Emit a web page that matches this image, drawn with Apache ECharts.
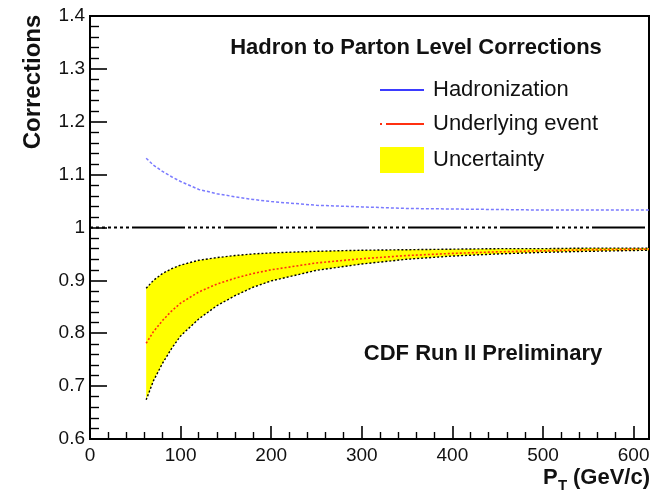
<!DOCTYPE html>
<html>
<head>
<meta charset="utf-8">
<script src="https://cdn.jsdelivr.net/npm/echarts@6/dist/echarts.min.js"></script>
<style>
html,body{margin:0;padding:0;background:#fff;}
#chart{width:656px;height:492px;}
</style>
</head>
<body>
<div id="chart"></div>
<script>
// ---- data ----
const ptValues = [62, 70, 80, 90, 100, 120, 140, 160, 180, 200, 250, 300, 350, 400, 450, 500, 550, 617];
const hadronization = [1.131, 1.118, 1.106, 1.096, 1.087, 1.072, 1.064, 1.058, 1.053, 1.049, 1.042, 1.039, 1.036, 1.035, 1.034, 1.033, 1.033, 1.033];
const underlyingEvent = [0.781, 0.803, 0.824, 0.842, 0.857, 0.878, 0.893, 0.904, 0.913, 0.920, 0.933, 0.941, 0.947, 0.951, 0.954, 0.956, 0.958, 0.959];
const uncertaintyLow = [0.674, 0.710, 0.743, 0.771, 0.795, 0.827, 0.852, 0.871, 0.887, 0.899, 0.919, 0.931, 0.940, 0.946, 0.950, 0.953, 0.955, 0.957];
const uncertaintyHigh = [0.885, 0.900, 0.913, 0.922, 0.929, 0.938, 0.943, 0.947, 0.950, 0.952, 0.955, 0.957, 0.958, 0.959, 0.960, 0.960, 0.961, 0.961];
const referenceX = [0, 617];
const referenceY = [1, 1];
const seriesNames = ['Hadronization', 'Underlying event', 'Uncertainty'];
const titleText = 'Hadron to Parton Level Corrections';
const labelText = 'CDF Run II Preliminary';
const yTitle = 'Corrections';

const FONT = '"Liberation Sans", Arial, Helvetica, sans-serif';
const chart = echarts.init(document.getElementById('chart'), null, {renderer: 'canvas'});

const pair = (xs, ys) => xs.map((x, i) => [x, ys[i]]);

const option = {
  animation: false,
  backgroundColor: '#fff',
  grid: {left: 90, right: 7, top: 16, bottom: 53, show: true, borderColor: '#000', borderWidth: 2, backgroundColor: 'transparent'},
  xAxis: {
    type: 'value', min: 0, max: 617, interval: 100,
    splitLine: {show: false},
    axisLine: {show: true, onZero: false, lineStyle: {color: '#000', width: 2}},
    axisTick: {show: true, inside: true, length: 13, lineStyle: {color: '#000', width: 1.6}},
    minorTick: {show: true, splitNumber: 5, length: 7, lineStyle: {color: '#000', width: 1.4}},
    axisLabel: {show: true, margin: 7, fontSize: 19, color: '#111', fontFamily: FONT, showMaxLabel: false}
  },
  yAxis: {
    type: 'value', min: 0.6, max: 1.4, interval: 0.1,
    splitLine: {show: false},
    axisLine: {show: true, onZero: false, lineStyle: {color: '#000', width: 2}},
    axisTick: {show: true, inside: true, length: 17, lineStyle: {color: '#000', width: 1.6}},
    minorTick: {show: true, splitNumber: 5, length: 9, lineStyle: {color: '#000', width: 1.4}},
    axisLabel: {show: true, margin: 5, fontSize: 19, color: '#111', fontFamily: FONT,
      formatter: v => String(Math.round(v * 10) / 10)}
  },
  legend: {
    left: 374, top: 74, orient: 'vertical', itemWidth: 44, itemHeight: 26, itemGap: 12,
    selectedMode: false,
    textStyle: {fontSize: 22, color: '#111', fontFamily: FONT, padding: [0, 0, 0, 4]},
    data: [
      {name: seriesNames[0], itemStyle: {opacity: 0}, lineStyle: {type: 'solid', color: '#3b3bff', width: 2}},
      {name: seriesNames[1], itemStyle: {opacity: 0}, lineStyle: {type: [2, 4, 40, 0], color: '#ff3010', width: 2}},
      {name: seriesNames[2], icon: 'rect', itemStyle: {color: '#ffff00', borderWidth: 0, opacity: 1}}
    ]
  },
  series: [
    {
      name: seriesNames[2], type: 'custom', silent: true, z: 1,
      itemStyle: {color: '#ffff00'},
      data: pair(ptValues, uncertaintyHigh),
      renderItem: function (params, api) {
        if (params.dataIndex !== 0) return null;
        const pts = [];
        for (let i = 0; i < ptValues.length; i++) pts.push(api.coord([ptValues[i], uncertaintyHigh[i]]));
        for (let i = ptValues.length - 1; i >= 0; i--) pts.push(api.coord([ptValues[i], uncertaintyLow[i]]));
        return {type: 'polygon', shape: {points: pts}, style: {fill: '#ffff00', stroke: null}};
      }
    },
    {
      name: 'lowEdge', type: 'line', symbol: 'none', silent: true,
      data: pair(ptValues, uncertaintyLow),
      lineStyle: {color: '#000', width: 1.4, type: [2, 2]},
      itemStyle: {color: '#000'},
      z: 2
    },
    {
      name: 'highEdge', type: 'line', symbol: 'none', silent: true,
      data: pair(ptValues, uncertaintyHigh),
      lineStyle: {color: '#000', width: 1.4, type: [2, 2]},
      itemStyle: {color: '#000'},
      z: 2
    },
    {
      name: seriesNames[1], type: 'line', symbol: 'none', silent: true,
      data: pair(ptValues, underlyingEvent),
      lineStyle: {color: '#ff3010', width: 1.6, type: [2, 2]},
      itemStyle: {color: '#ff3010'},
      z: 3
    },
    {
      name: seriesNames[0], type: 'line', symbol: 'none', silent: true,
      data: pair(ptValues, hadronization),
      lineStyle: {color: '#7a7aff', width: 1.5, type: [3, 2]},
      itemStyle: {color: '#3b3bff'},
      z: 3
    },
    {
      name: 'reference', type: 'line', symbol: 'none', silent: true,
      data: pair(referenceX, referenceY),
      lineStyle: {color: '#000', width: 2, type: [3, 3, 3, 3, 3, 3, 3, 3, 3, 3, 3, 3, 3, 3, 50, 0]},
      itemStyle: {color: '#000'},
      z: 4
    }
  ],
  graphic: [
    {type: 'text', x: 416, y: 48, z: 10, style: {text: titleText, font: 'bold 22px ' + FONT, fill: '#111', align: 'center', verticalAlign: 'middle'}},
    {type: 'text', x: 483, y: 354, z: 10, style: {text: labelText, font: 'bold 22px ' + FONT, fill: '#111', align: 'center', verticalAlign: 'middle'}},
    {type: 'text', x: 33, y: 82, rotation: Math.PI / 2, z: 10, style: {text: yTitle, font: 'bold 24px ' + FONT, fill: '#111', align: 'center', verticalAlign: 'middle'}},
    {type: 'text', x: 543, y: 478, z: 10, style: {text: 'P', font: 'bold 22px ' + FONT, fill: '#111', align: 'left', verticalAlign: 'middle'}},
    {type: 'text', x: 558, y: 486, z: 10, style: {text: 'T', font: 'bold 15px ' + FONT, fill: '#111', align: 'left', verticalAlign: 'middle'}},
    {type: 'text', x: 650, y: 478, z: 10, style: {text: '(GeV/c)', font: 'bold 22px ' + FONT, fill: '#111', align: 'right', verticalAlign: 'middle'}}
  ]
};
chart.setOption(option);
</script>
</body>
</html>
